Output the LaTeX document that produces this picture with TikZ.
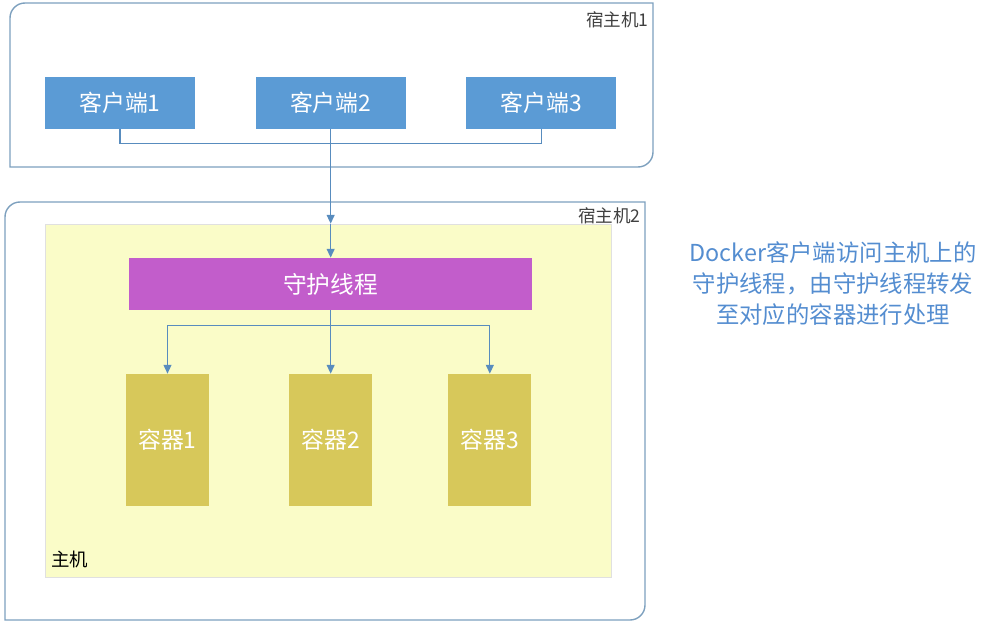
\documentclass[tikz,border=0pt]{standalone}
\usepackage{fontspec}
\setmainfont{Noto Sans CJK SC}
\usetikzlibrary{positioning, arrows.meta}
\definecolor{clientblue}{RGB}{91,155,213}
\definecolor{daemonpurple}{RGB}{194,93,203}
\definecolor{boxolive}{RGB}{215,200,90}
\definecolor{hostyellow}{RGB}{250,252,200}
\definecolor{hostframe}{RGB}{125,160,190}
\definecolor{linkblue}{RGB}{88,140,190}
\definecolor{notetext}{RGB}{84,141,208}
\tikzset{hostline/.style={draw=hostframe, line width=0.8pt}}
\tikzset{hostlabel/.style={anchor=east, inner sep=0pt, text=black!75, font=\fontsize{10}{12}\selectfont}}
\tikzset{client/.style={fill=clientblue, text=white, minimum width=3cm, minimum height=1.04cm, inner sep=0pt, font=\fontsize{13}{15}\selectfont}}
\tikzset{daemon/.style={fill=daemonpurple, text=white, minimum width=8.06cm, minimum height=1.04cm, inner sep=0pt, font=\fontsize{13.5}{15}\selectfont}}
\tikzset{cont/.style={fill=boxolive, text=white, minimum width=1.66cm, minimum height=2.64cm, inner sep=0pt, font=\fontsize{13}{15}\selectfont}}
\tikzset{hostbg/.style={fill=hostyellow, draw=black!12, line width=0.4pt, minimum width=11.32cm, minimum height=7.06cm, inner sep=0pt}}
\tikzset{bus/.style={draw=linkblue, line width=0.6pt}}
\tikzset{arr2/.style={draw=linkblue, line width=0.7pt, -{Triangle[length=5pt, width=4.5pt]}}}
\begin{document}
\begin{tikzpicture}[x=0.02cm, y=-0.02cm]
	\useasboundingbox (0,0) rectangle (990,628);
	% host 1
	\draw[hostline] (10,167) -- (10,18) to[out=90,in=180] (25,3)
		-- (653,3) -- (653,152) to[out=-90,in=0] (638,167) -- cycle;
	\node[hostlabel] (h1) at (649,20) {宿主机1};
	\node[client] (c1) at (120,103) {客户端1};
	\node[client, right=1.2cm of c1] (c2) {客户端2};
	\node[client, right=1.2cm of c2] (c3) {客户端3};
	% host 2
	\draw[hostline] (5,620) -- (5,217) to[out=90,in=180] (20,202)
		-- (645,202) -- (645,605) to[out=-90,in=0] (630,620) -- cycle;
	\node[hostlabel] (h2) at (641,216) {宿主机2};
	\node[hostbg] (mb) at (328,400.5) {};
	\node[anchor=south west, inner sep=0pt, font=\fontsize{10.5}{12}\selectfont] (mbl)
		at ([xshift=0.12cm, yshift=0.18cm]mb.south west) {主机};
	\node[daemon] (dm) at (c2 |- 0,284) {守护线程};
	\node[cont] (k2) at (dm |- 0,440) {容器2};
	\node[cont, left=1.59cm of k2] (k1) {容器1};
	\node[cont, right=1.51cm of k2] (k3) {容器3};
	% clients to daemon
	\coordinate (in) at (c2.south |- mb.north);
	\draw[bus] (c1.south) -- ++(0,14) -| (c3.south);
	\draw[arr2] (c2.south) -- (in);
	\draw[arr2] (in) -- (dm.north);
	% daemon to containers
	\draw[arr2] (dm.south) -- (k2.north);
	\draw[arr2] (dm.south) -- ++(0,15) -| (k1.north);
	\draw[arr2] (dm.south) -- ++(0,15) -| (k3.north);
	% note
	\node[align=center, text=notetext, font=\fontsize{13.3}{17.6}\selectfont] (note) at (833,284)
		{Docker客户端访问主机上的\\守护线程，由守护线程转发\\至对应的容器进行处理};
\end{tikzpicture}
\end{document}
